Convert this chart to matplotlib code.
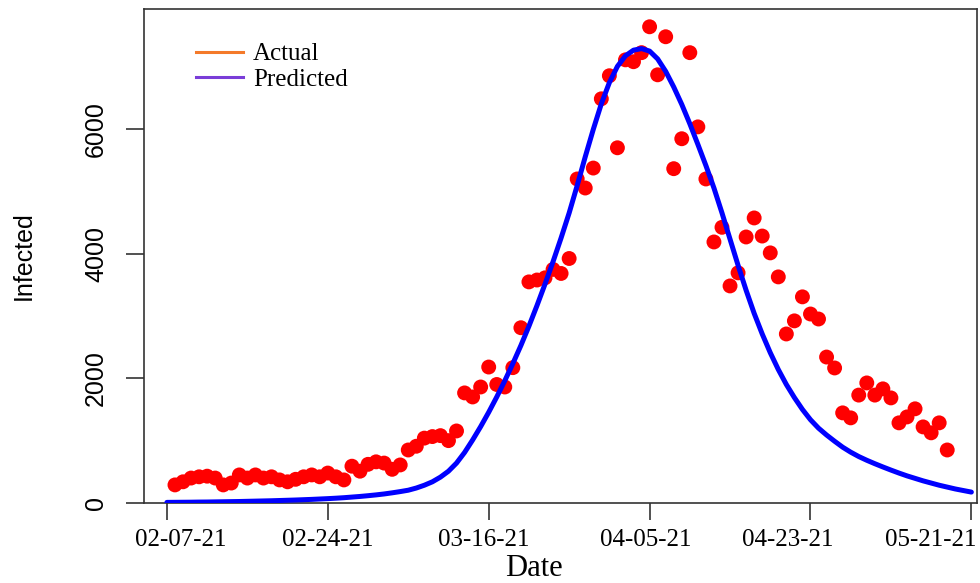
import numpy as np
import matplotlib
matplotlib.use("Agg")
import matplotlib.pyplot as plt
from matplotlib.lines import Line2D

# observed daily infections, day index 1..97
day_actual = np.arange(1, 98)
actual = [290, 340, 400, 420, 430, 400, 290, 320, 450, 400,
          450, 400, 420, 370, 340, 380, 420, 450, 420, 480,
          420, 370, 590, 510, 620, 660, 640, 540, 610, 850,
          910, 1040, 1065, 1080, 1000, 1155, 1765, 1700, 1860, 2180,
          1900, 1860, 2170, 2810, 3545, 3575, 3610, 3745, 3680, 3920,
          5195, 5050, 5370, 6480, 6850, 5695, 7105, 7075, 7220, 7635,
          6865, 7475, 5360, 5840, 7220, 6030, 5195, 4185, 4420, 3480,
          3690, 4265, 4570, 4280, 4010, 3625, 2710, 2920, 3305, 3030,
          2950, 2340, 2165, 1445, 1365, 1730, 1925, 1730, 1830, 1685,
          1285, 1380, 1510, 1220, 1125, 1285, 850]

# fitted curve, day index 0..100
day_pred = np.arange(0, 101)
predicted = [10, 11, 12, 13, 15, 16, 18, 20, 22, 24,
             27, 30, 33, 36, 40, 44, 48, 53, 58, 64,
             70, 77, 85, 95, 105, 117, 130, 145, 163, 183,
             205, 240, 285, 340, 415, 510, 640, 810, 1010, 1225,
             1455, 1700, 1960, 2235, 2525, 2835, 3165, 3510, 3870, 4250,
             4650, 5090, 5550, 5990, 6400, 6740, 7000, 7170, 7260, 7285,
             7245, 7120, 6920, 6670, 6390, 6080, 5750, 5410, 5050, 4650,
             4230, 3810, 3410, 3040, 2710, 2410, 2140, 1900, 1690, 1500,
             1335, 1200, 1090, 990, 895, 815, 745, 685, 630, 578,
             528, 480, 435, 395, 355, 320, 285, 255, 225, 200,
             175]

tick_pos = [0, 20, 40, 60, 80, 100]
tick_labels = ["02-07-21", "02-24-21", "03-16-21", "04-05-21", "04-23-21", "05-21-21"]
label_shift_px = [14, 0, -5, -4, -23, -41]

serif = "Liberation Serif"
sans = "Liberation Sans"

fig = plt.figure(figsize=(9.8, 5.83), dpi=100)
ax = fig.add_axes([144/980, (583-503)/583, (977-144)/980, (503-9)/583])

ax.plot(day_pred, predicted, color="#0000FF", lw=3.6, zorder=3,
        solid_capstyle="round", solid_joinstyle="round")
ax.scatter(day_actual, actual, s=115, color="#FF0000", edgecolors="none", zorder=2)

ax.set_xlim(-2.85, 100.7)
ax.set_ylim(0, 7920)

# x labels sit a little off their ticks in the original, so place them by hand
ax.set_xticks(tick_pos)
ax.set_xticklabels([])
xform = ax.get_xaxis_transform()
for pos, lab, dx in zip(tick_pos, tick_labels, label_shift_px):
    ax.annotate(lab, xy=(pos, 0), xycoords=xform,
                xytext=(dx * 0.72, -37 * 0.72), textcoords="offset points",
                ha="center", va="center", fontfamily=serif, fontsize=18,
                annotation_clip=False)

ax.set_yticks([0, 2000, 4000, 6000])
ax.set_yticklabels(["0", "2000", "4000", "6000"], fontfamily=sans, fontsize=18,
                   rotation=90, va="center")
ax.tick_params(axis="x", length=12, width=1.2, color="#333333")
ax.tick_params(axis="y", length=13, width=1.2, pad=13, color="#333333")
for sp in ax.spines.values():
    sp.set_linewidth(1.2)
    sp.set_color("#333333")

ax.set_ylabel("Infected", fontfamily=sans, fontsize=18, labelpad=35)
fig.text(534/980, 1 - 568/583, "Date", fontfamily=serif, fontsize=22,
         ha="center", va="center")

handles = [Line2D([], [], color="#F47A2A", lw=2.2),
           Line2D([], [], color="#7A3DD8", lw=2.2)]
leg = ax.legend(handles, ["Actual", "Predicted"], loc="upper left",
                bbox_to_anchor=(0.035, 0.977), frameon=False,
                prop={"family": serif, "size": 18},
                handlelength=1.9, handletextpad=0.4, labelspacing=0.12)

fig.savefig("out.png", dpi=100)
